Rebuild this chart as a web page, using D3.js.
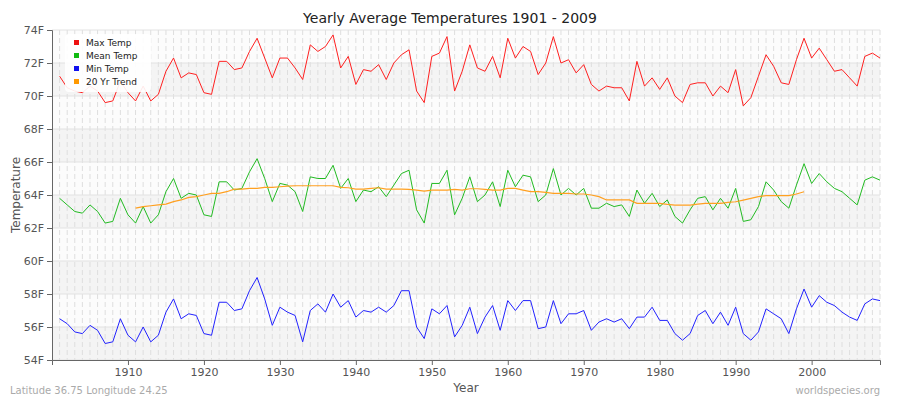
<!DOCTYPE html>
<html>
<head>
<meta charset="utf-8">
<script src="https://cdn.jsdelivr.net/npm/d3@7"></script>
<style>
body { margin: 0; background: #fff; }
text { font-family: "DejaVu Sans", sans-serif; }
</style>
</head>
<body>
<div id="chart"></div>
<script>
// yearly values 1901 - 2009
var firstYear = 1901;
var maxTemp = [71.2,70.5,70.3,70.2,70.6,70.3,69.6,69.7,70.9,70.2,69.7,70.6,69.7,70.1,71.5,72.3,71.1,71.4,71.3,70.2,
  70.1,72.1,72.1,71.6,71.7,72.7,73.5,72.3,71.1,72.3,72.3,71.7,71.0,73.1,72.7,73.0,73.7,71.7,72.4,70.7,
  71.6,71.5,71.9,71.0,72.0,72.5,72.8,70.3,69.6,72.4,72.6,73.6,70.3,71.5,73.1,71.7,71.5,72.4,71.1,73.5,
  72.3,73.0,72.7,71.3,72.0,73.6,72.0,72.2,71.4,71.9,70.7,70.3,70.6,70.5,70.5,69.7,72.1,70.6,71.1,70.4,
  71.1,70.0,69.6,70.7,70.8,70.8,70.0,70.6,70.2,71.6,69.4,69.9,71.2,72.5,71.8,70.8,70.7,72.2,73.5,72.3,
  72.9,72.2,71.5,71.6,71.1,70.6,72.4,72.6,72.3];
var meanTemp = [63.8,63.4,63.0,62.9,63.4,63.0,62.3,62.4,63.8,62.8,62.3,63.3,62.3,62.8,64.2,65.0,63.8,64.1,64.0,62.8,
  62.7,64.8,64.8,64.3,64.4,65.4,66.2,65.0,63.6,64.7,64.6,64.2,63.0,65.1,65.0,65.0,65.8,64.4,65.0,63.6,
  64.3,64.2,64.5,63.9,64.6,65.3,65.5,63.1,62.3,64.7,64.7,65.5,62.8,63.8,65.1,63.6,64.0,64.8,63.3,65.5,
  64.5,65.2,65.1,63.6,64.0,65.6,64.0,64.4,64.0,64.4,63.2,63.2,63.5,63.3,63.4,62.7,64.3,63.5,64.1,63.3,
  63.7,62.7,62.3,63.1,63.8,63.9,63.1,63.8,63.2,64.4,62.4,62.5,63.3,64.8,64.3,63.6,63.2,64.6,65.9,64.7,
  65.3,64.8,64.4,64.2,63.8,63.4,64.9,65.1,64.9];
var minTemp = [56.5,56.2,55.7,55.6,56.1,55.8,55.0,55.1,56.5,55.5,55.1,56.0,55.1,55.5,56.9,57.7,56.5,56.8,56.7,55.6,
  55.5,57.5,57.5,57.0,57.1,58.2,59.0,57.7,56.1,57.2,56.9,56.7,55.1,57.0,57.4,56.9,58.0,57.2,57.6,56.6,
  57.0,56.9,57.2,56.9,57.3,58.2,58.2,56.0,55.3,57.1,56.8,57.3,55.4,56.1,57.2,55.6,56.6,57.3,55.8,57.6,
  57.0,57.6,57.6,55.9,56.0,57.6,56.2,56.8,56.8,57.0,55.8,56.3,56.5,56.3,56.5,55.9,56.6,56.6,57.2,56.4,
  56.4,55.6,55.2,55.6,56.7,57.0,56.2,56.9,56.1,57.2,55.6,55.2,55.7,57.1,56.8,56.5,55.6,57.1,58.3,57.2,
  57.9,57.5,57.3,56.9,56.6,56.4,57.4,57.7,57.6];
// 20 year trend, 1911 - 1999
var trendStart = 1911;
var trend = [63.2,63.3,63.35,63.4,63.45,63.6,63.7,63.86,63.9,64.0,64.1,64.1,64.2,64.36,64.36,64.4,64.4,64.46,64.46,64.5,
  64.54,64.56,64.56,64.56,64.56,64.56,64.56,64.46,64.44,64.36,64.36,64.4,64.44,64.36,64.36,64.36,64.34,64.3,64.24,64.3,
  64.3,64.3,64.34,64.3,64.38,64.38,64.34,64.3,64.3,64.4,64.4,64.3,64.2,64.2,64.16,64.1,64.1,64.1,64.06,64.06,
  64.0,63.9,63.7,63.7,63.7,63.7,63.49,63.49,63.49,63.49,63.43,63.39,63.39,63.39,63.45,63.49,63.49,63.49,63.55,63.59,
  63.69,63.8,63.9,63.96,63.96,63.96,63.96,64.06,64.2];
var yTicks = [54,56,58,60,62,64,66,68,70,72,74];
var xTicks = [1910,1920,1930,1940,1950,1960,1970,1980,1990,2000];

var W = 900, H = 400;
var margin = {top: 30, right: 20, bottom: 40, left: 52};
var width = W - margin.left - margin.right;
var height = H - margin.top - margin.bottom;

var svg = d3.select("#chart").append("svg")
  .attr("width", W).attr("height", H);

svg.append("text").attr("x", W / 2).attr("y", 23).attr("text-anchor", "middle")
  .style("font-size", "14px").attr("fill", "#222").text("Yearly Average Temperatures 1901 - 2009");

var g = svg.append("g").attr("transform", "translate(" + margin.left + "," + margin.top + ")");

var x = d3.scaleLinear().domain([1900, 2009]).range([0, width]);
var y = d3.scaleLinear().domain([54, 74]).range([height, 0]);

// background bands
for (var i = 0; i < yTicks.length - 1; i++) {
  g.append("rect").attr("x", 0).attr("width", width)
    .attr("y", y(yTicks[i + 1])).attr("height", y(yTicks[i]) - y(yTicks[i + 1]))
    .attr("fill", i % 2 === 0 ? "#f4f4f4" : "#fcfcfc");
}
// vertical dashed grid per year
g.selectAll(".vg").data(d3.range(1901, 2010)).enter().append("line")
  .attr("x1", x).attr("x2", x).attr("y1", 0).attr("y2", height)
  .attr("stroke", "#dedede").attr("stroke-dasharray", "5,3");
g.selectAll(".hg").data(yTicks).enter().append("line")
  .attr("x1", 0).attr("x2", width).attr("y1", y).attr("y2", y)
  .attr("stroke", "#e2e2e2");

var years = d3.range(firstYear, firstYear + maxTemp.length);
function line(arr, start) {
  return d3.line().x(function (d, i) { return x(start + i); }).y(function (d) { return y(d); })(arr);
}
g.append("path").attr("d", line(maxTemp, firstYear)).attr("fill", "none").attr("stroke", "#ff2020").attr("stroke-width", 1);
g.append("path").attr("d", line(meanTemp, firstYear)).attr("fill", "none").attr("stroke", "#22bb22").attr("stroke-width", 1);
g.append("path").attr("d", line(minTemp, firstYear)).attr("fill", "none").attr("stroke", "#2222ff").attr("stroke-width", 1);
g.append("path").attr("d", line(trend, trendStart)).attr("fill", "none").attr("stroke", "#ffa020").attr("stroke-width", 1.2);

// axes
var yAxis = g.append("g").call(d3.axisLeft(y).tickValues(yTicks).tickFormat(function (d) { return d + "F"; }).tickSize(5));
var xAxis = g.append("g").attr("transform", "translate(0," + height + ")")
  .call(d3.axisBottom(x).tickValues(xTicks).tickFormat(d3.format("d")).tickSize(5));
[yAxis, xAxis].forEach(function (a) {
  a.select(".domain").attr("stroke", "#666");
  a.selectAll(".tick line").attr("stroke", "#666");
  a.selectAll(".tick text").attr("fill", "#555").style("font-size", "11px").style("font-family", "DejaVu Sans");
});

svg.append("text").attr("x", margin.left + width / 2).attr("y", 392).attr("text-anchor", "middle")
  .style("font-size", "12px").attr("fill", "#555").text("Year");
svg.append("text").attr("transform", "translate(20," + (margin.top + height / 2) + ") rotate(-90)")
  .attr("text-anchor", "middle").style("font-size", "12px").attr("fill", "#555").text("Temperature");
svg.append("text").attr("x", 10).attr("y", 394).style("font-size", "10px").attr("fill", "#aaa")
  .text("Latitude 36.75 Longitude 24.25");
svg.append("text").attr("x", 880).attr("y", 394).attr("text-anchor", "end").style("font-size", "10px").attr("fill", "#aaa")
  .text("worldspecies.org");

// legend
var legendNames = ["Max Temp", "Mean Temp", "Min Temp", "20 Yr Trend"];
var legendColors = ["#ee1111", "#11bb11", "#1111ee", "#ff9900"];
var lg = svg.append("g").attr("transform", "translate(65,34)");
lg.append("rect").attr("width", 86).attr("height", 58).attr("rx", 4).attr("fill", "#fff").attr("opacity", 0.9);
legendNames.forEach(function (n, i) {
  lg.append("rect").attr("x", 9).attr("y", 6 + i * 13).attr("width", 5).attr("height", 5).attr("fill", legendColors[i]);
  lg.append("text").attr("x", 21).attr("y", 12 + i * 13).style("font-size", "9px").attr("fill", "#222").text(n);
});
</script>
</body>
</html>
